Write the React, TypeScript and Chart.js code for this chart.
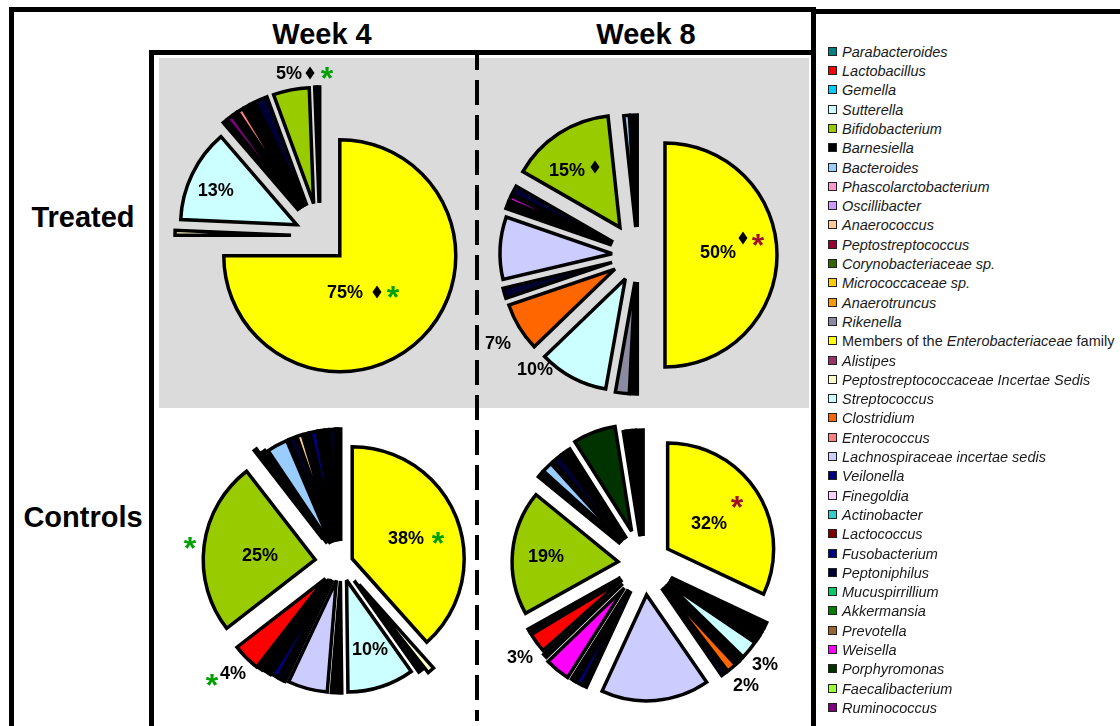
import React, { useEffect, useRef } from 'react';
import { Chart, PieController, ArcElement } from 'chart.js';

Chart.register(PieController, ArcElement);

// ---------- taxa shown in the legend, with their colours ----------
const taxa = [
  'Parabacteroides', 'Lactobacillus', 'Gemella', 'Sutterella', 'Bifidobacterium',
  'Barnesiella', 'Bacteroides', 'Phascolarctobacterium', 'Oscillibacter', 'Anaerococcus',
  'Peptostreptococcus', 'Corynobacteriaceae sp.', 'Micrococcaceae sp.', 'Anaerotruncus', 'Rikenella',
  'Members of the Enterobacteriaceae family', 'Alistipes', 'Peptostreptococcaceae Incertae Sedis',
  'Streptococcus', 'Clostridium', 'Enterococcus', 'Lachnospiraceae incertae sedis', 'Veilonella',
  'Finegoldia', 'Actinobacter', 'Lactococcus', 'Fusobacterium', 'Peptoniphilus', 'Mucuspirrillium',
  'Akkermansia', 'Prevotella', 'Weisella', 'Porphyromonas', 'Faecalibacterium', 'Ruminococcus',
];
const taxonColors = [
  '#008080', '#FF0000', '#00CCFF', '#CCFFFF', '#99CC00',
  '#000000', '#99CCFF', '#FF99CC', '#CC99FF', '#FFCC99',
  '#990033', '#336600', '#FFCC00', '#FF9900', '#8A8AA0',
  '#FFFF00', '#993366', '#FFFFCC', '#CCFFFF', '#FF6600',
  '#FF8080', '#CCCCFF', '#000080', '#FFCCFF', '#33CCCC',
  '#800000', '#000080', '#000033', '#00CC66', '#008000',
  '#996633', '#FF00FF', '#003300', '#99FF33', '#800080',
];
const colorOf = (name: string) => taxonColors[taxa.indexOf(name)] ?? '#000000';

// ---------- Week 4, treated ----------
const w4TreatedTaxa = [
  'Members of the Enterobacteriaceae family', 'Peptostreptococcaceae Incertae Sedis', 'Streptococcus',
  'Barnesiella', 'Ruminococcus', 'Peptoniphilus', 'Enterococcus', 'Barnesiella',
  'Lachnospiraceae incertae sedis', 'Peptoniphilus', 'Bifidobacterium', 'Sutterella', 'Barnesiella',
];
const w4TreatedValues = [75, 0.7, 13, 0.5, 0.9, 0.5, 0.8, 0.8, 0.4, 1.8, 5, 0.3, 0.3];
const w4TreatedExplode = [28, 29, 26, 33, 33, 33, 33, 33, 33, 33, 33, 33, 33];

// ---------- Week 8, treated ----------
const w8TreatedTaxa = [
  'Members of the Enterobacteriaceae family', 'Barnesiella', 'Rikenella', 'Streptococcus', 'Clostridium',
  'Peptoniphilus', 'Lachnospiraceae incertae sedis', 'Barnesiella', 'Weisella', 'Peptoniphilus',
  'Bifidobacterium', 'Bacteroides', 'Barnesiella',
];
const w8TreatedValues = [50, 0.8, 2.0, 10, 7, 1.5, 9, 1.0, 0.7, 1.3, 15, 0.8, 0.9];
const w8TreatedExplode = [27, 27, 27, 27, 27, 27, 26, 28, 28, 28, 33, 28, 28];

// ---------- Week 4, controls ----------
const w4ControlTaxa = [
  'Members of the Enterobacteriaceae family', 'Peptostreptococcaceae Incertae Sedis', 'Barnesiella',
  'Streptococcus', 'Barnesiella', 'Lachnospiraceae incertae sedis', 'Sutterella', 'Peptoniphilus',
  'Veilonella', 'Barnesiella', 'Lactococcus', 'Peptoniphilus', 'Lactobacillus', 'Bifidobacterium',
  'Sutterella', 'Barnesiella', 'Bacteroides', 'Peptoniphilus', 'Anaerococcus', 'Barnesiella',
  'Fusobacterium', 'Barnesiella', 'Prevotella', 'Peptoniphilus', 'Veilonella', 'Barnesiella',
];
const w4ControlValues = [
  38.4, 1.0, 0.8, 9.6, 1.5, 5.7, 0.2, 0.7, 1.0, 1.0, 0.2, 0.4, 4, 25,
  0.4, 0.7, 3.0, 1.0, 0.8, 0.8, 1.0, 0.9, 0.4, 0.8, 0.3, 0.4,
];
const w4ControlExplode = [
  12, 28, 22, 18, 18, 18, 19, 19, 19, 20, 20, 21, 22, 26,
  30, 24, 22, 22, 22, 22, 22, 22, 22, 22, 22, 22,
];

// ---------- Week 8, controls ----------
const w8ControlTaxa = [
  'Members of the Enterobacteriaceae family', 'Barnesiella', 'Alistipes', 'Peptoniphilus', 'Rikenella',
  'Barnesiella', 'Streptococcus', 'Peptoniphilus', 'Sutterella', 'Barnesiella', 'Clostridium',
  'Peptoniphilus', 'Lachnospiraceae incertae sedis', 'Barnesiella', 'Veilonella', 'Sutterella',
  'Peptoniphilus', 'Weisella', 'Barnesiella', 'Lactobacillus', 'Peptoniphilus', 'Bifidobacterium',
  'Barnesiella', 'Bacteroides', 'Peptoniphilus', 'Oscillibacter', 'Barnesiella', 'Porphyromonas',
  'Sutterella', 'Barnesiella', 'Lactobacillus', 'Barnesiella',
];
const w8ControlValues = [
  32, 0.8, 0.5, 0.5, 0.4, 0.3, 2.8, 0.3, 0.2, 0.3, 1.5, 0.8, 16.5, 0.5, 1.0, 0.2,
  0.4, 3.8, 0.6, 3.0, 0.5, 19, 0.8, 1.6, 1.4, 0.3, 1.0, 6.5, 0.3, 0.8, 0.4, 1.0,
];
const w8ControlExplode = [
  28, 30, 30, 30, 30, 30, 30, 30, 30, 30, 30, 30, 31, 30, 30, 30,
  30, 31, 29, 27, 27, 26, 31, 31, 31, 31, 31, 35, 28, 28, 28, 28,
];

const GREEN = '#00A000';
const DARK_RED = '#A0102A';

type Mark = { kind: 'diamond' | 'star'; color?: string; dx: number; dy: number };
type Note = { slice: number; at: [number, number]; marks?: Mark[] };

// Percentage labels, placed relative to the (exploded) tip of their slice, in radius units
const w4TreatedNotes: Note[] = [
  { slice: 0, at: [0.045, 0.312], marks: [{ kind: 'diamond', dx: 32, dy: 0 }, { kind: 'star', color: GREEN, dx: 48, dy: 0 }] },
  { slice: 2, at: [-0.697, -0.296] },
  { slice: 10, at: [-0.212, -1.126], marks: [{ kind: 'diamond', dx: 21, dy: 0 }, { kind: 'star', color: GREEN, dx: 38, dy: 0 }] },
];
const w8TreatedNotes: Note[] = [
  { slice: 0, at: [0.473, -0.027], marks: [{ kind: 'diamond', dx: 25, dy: -14 }, { kind: 'star', color: DARK_RED, dx: 40, dy: -12 }] },
  { slice: 10, at: [-0.473, -0.512], marks: [{ kind: 'diamond', dx: 28, dy: -3 }] },
  { slice: 3, at: [-0.806, 0.805] },
  { slice: 4, at: [-1.044, 0.661] },
];
const w4ControlNotes: Note[] = [
  { slice: 0, at: [0.48, -0.185], marks: [{ kind: 'star', color: GREEN, dx: 32, dy: 0 }] },
  { slice: 13, at: [-0.493, -0.041], marks: [{ kind: 'star', color: GREEN, dx: -70, dy: -12 }] },
  { slice: 3, at: [0.209, 0.615] },
  { slice: 12, at: [-0.825, 0.843], marks: [{ kind: 'star', color: GREEN, dx: -21, dy: 7 }] },
];
const w8ControlNotes: Note[] = [
  { slice: 0, at: [0.391, -0.245], marks: [{ kind: 'star', color: DARK_RED, dx: 28, dy: -21 }] },
  { slice: 21, at: [-0.68, -0.054] },
  { slice: 6, at: [0.922, 0.764] },
  { slice: 10, at: [0.78, 0.925] },
  { slice: 19, at: [-0.965, 0.726] },
];

const FONT = '"Liberation Sans", Arial, Helvetica, sans-serif';

// Draws each slice pushed out along its bisector (Excel-style explosion), then the labels.
function explodedPiePlugin(notes: Note[]) {
  return {
    id: 'explodedPie',
    beforeDatasetDraw(chart: any, args: any) {
      const ctx: CanvasRenderingContext2D = chart.ctx;
      const data = args.meta.data as any[];
      const shapes = data.map((arc) => {
        const p = arc.getProps(['x', 'y', 'startAngle', 'endAngle', 'outerRadius'], true);
        const o = arc.options;
        const mid = (p.startAngle + p.endAngle) / 2;
        const d = o.offset || 0;
        return { ...p, ax: p.x + Math.cos(mid) * d, ay: p.y + Math.sin(mid) * d, o };
      });
      const path = (s: any) => {
        ctx.beginPath();
        ctx.moveTo(s.ax, s.ay);
        ctx.arc(s.ax, s.ay, s.outerRadius, s.startAngle, s.endAngle);
        ctx.closePath();
      };
      ctx.save();
      shapes.forEach((s) => {
        path(s);
        ctx.fillStyle = s.o.backgroundColor;
        ctx.fill();
      });
      ctx.lineJoin = 'miter';
      ctx.miterLimit = 3;
      shapes.forEach((s) => {
        path(s);
        ctx.lineWidth = s.o.borderWidth;
        ctx.strokeStyle = s.o.borderColor;
        ctx.stroke();
      });
      ctx.restore();
      return false;
    },
    afterDatasetsDraw(chart: any) {
      const ctx: CanvasRenderingContext2D = chart.ctx;
      const meta = chart.getDatasetMeta(0);
      const values = chart.data.datasets[0].data as number[];
      ctx.save();
      notes.forEach((n) => {
        const arc = meta.data[n.slice];
        const p = arc.getProps(['x', 'y', 'startAngle', 'endAngle', 'outerRadius'], true);
        const mid = (p.startAngle + p.endAngle) / 2;
        const d = arc.options.offset || 0;
        const tx = p.x + Math.cos(mid) * d + n.at[0] * p.outerRadius;
        const ty = p.y + Math.sin(mid) * d + n.at[1] * p.outerRadius;
        ctx.font = `bold 18px ${FONT}`;
        ctx.fillStyle = '#000';
        ctx.textAlign = 'center';
        ctx.textBaseline = 'middle';
        ctx.fillText(`${Math.round(values[n.slice])}%`, tx, ty + 1);
        (n.marks || []).forEach((m) => {
          const mx = tx + m.dx;
          const my = ty + m.dy;
          if (m.kind === 'diamond') {
            ctx.beginPath();
            ctx.moveTo(mx, my - 6.5);
            ctx.lineTo(mx + 4.5, my);
            ctx.lineTo(mx, my + 6.5);
            ctx.lineTo(mx - 4.5, my);
            ctx.closePath();
            ctx.fillStyle = '#000';
            ctx.fill();
          } else {
            ctx.font = `bold 32px ${FONT}`;
            ctx.fillStyle = m.color || GREEN;
            ctx.textAlign = 'center';
            ctx.textBaseline = 'alphabetic';
            ctx.fillText('*', mx, my + 16);
          }
        });
      });
      ctx.restore();
    },
  };
}

type PieSpec = {
  names: string[];
  values: number[];
  explode: number[];
  notes: Note[];
  radius: number;
  cx: number;
  cy: number;
};

const HALF = 190;

function ExplodedPie({ spec }: { spec: PieSpec }) {
  const ref = useRef<HTMLCanvasElement>(null);
  useEffect(() => {
    if (!ref.current) return;
    const chart = new Chart(ref.current, {
      type: 'pie',
      data: {
        labels: spec.names,
        datasets: [
          {
            data: spec.values,
            backgroundColor: spec.names.map(colorOf),
            borderColor: '#000000',
            borderWidth: 3.5,
            offset: spec.explode,
            radius: spec.radius,
          } as any,
        ],
      },
      options: {
        responsive: false,
        animation: false,
        events: [],
        layout: { padding: 0 },
      },
      plugins: [explodedPiePlugin(spec.notes)],
    });
    return () => chart.destroy();
  }, [spec]);
  return (
    <canvas
      ref={ref}
      width={HALF * 2}
      height={HALF * 2}
      style={{ position: 'absolute', left: spec.cx - HALF, top: spec.cy - HALF, width: HALF * 2, height: HALF * 2 }}
    />
  );
}

const pies: PieSpec[] = [
  { names: w4TreatedTaxa, values: w4TreatedValues, explode: w4TreatedExplode, notes: w4TreatedNotes, radius: 116, cx: 320, cy: 236 },
  { names: w8TreatedTaxa, values: w8TreatedValues, explode: w8TreatedExplode, notes: w8TreatedNotes, radius: 112, cx: 638, cy: 255 },
  { names: w4ControlTaxa, values: w4ControlValues, explode: w4ControlExplode, notes: w4ControlNotes, radius: 112, cx: 341, cy: 563 },
  { names: w8ControlTaxa, values: w8ControlValues, explode: w8ControlExplode, notes: w8ControlNotes, radius: 106, cx: 644, cy: 564 },
];

const heading: React.CSSProperties = {
  position: 'absolute',
  font: `bold 29px ${FONT}`,
  lineHeight: '29px',
  color: '#000',
  whiteSpace: 'nowrap',
  transform: 'translateX(-50%)',
};

function LegendLabel({ name }: { name: string }) {
  const m = name.match(/^Members of the (\S+) family$/);
  if (m) {
    return (
      <span>
        Members of the <i>{m[1]}</i> family
      </span>
    );
  }
  return <i>{name}</i>;
}

export default function App() {
  const box = (l: number, t: number, w: number, h: number): React.CSSProperties => ({
    position: 'absolute', left: l, top: t, width: w, height: h, border: '5px solid #000', boxSizing: 'border-box',
  });
  return (
    <div style={{ position: 'absolute', left: 0, top: 0, width: 1120, height: 726, overflow: 'hidden', background: '#fff', fontFamily: FONT }}>
      <div style={box(9, 7, 807, 725)} />
      <div style={box(811, 9, 330, 723)} />
      <div style={box(149, 50, 667, 682)} />
      <div style={{ position: 'absolute', left: 159, top: 58, width: 650, height: 350, background: '#DBDBDB' }} />
      <div
        style={{
          position: 'absolute', left: 475, top: 55, width: 4, height: 666,
          backgroundImage: 'repeating-linear-gradient(to bottom, #000 0px, #000 25px, transparent 25px, transparent 35px)',
          backgroundPosition: '0 -10px',
        }}
      />
      <div style={{ ...heading, left: 322, top: 20 }}>Week 4</div>
      <div style={{ ...heading, left: 646, top: 20 }}>Week 8</div>
      <div style={{ ...heading, left: 83, top: 203 }}>Treated</div>
      <div style={{ ...heading, left: 83, top: 503 }}>Controls</div>
      {pies.map((p, i) => (
        <ExplodedPie key={i} spec={p} />
      ))}
      {taxa.map((t, i) => {
        const cy = 51.7 + i * 19.3;
        return (
          <div key={t} style={{ position: 'absolute', left: 828, top: cy - 10, height: 20, display: 'flex', alignItems: 'center', whiteSpace: 'nowrap' }}>
            <div style={{ width: 9, height: 9, background: taxonColors[i], border: '1px solid #222', boxSizing: 'border-box', marginRight: 5, marginTop: -1 }} />
            <div style={{ font: `14.5px ${FONT}`, color: '#1a1a1a', lineHeight: '20px' }}>
              <LegendLabel name={t} />
            </div>
          </div>
        );
      })}
    </div>
  );
}
